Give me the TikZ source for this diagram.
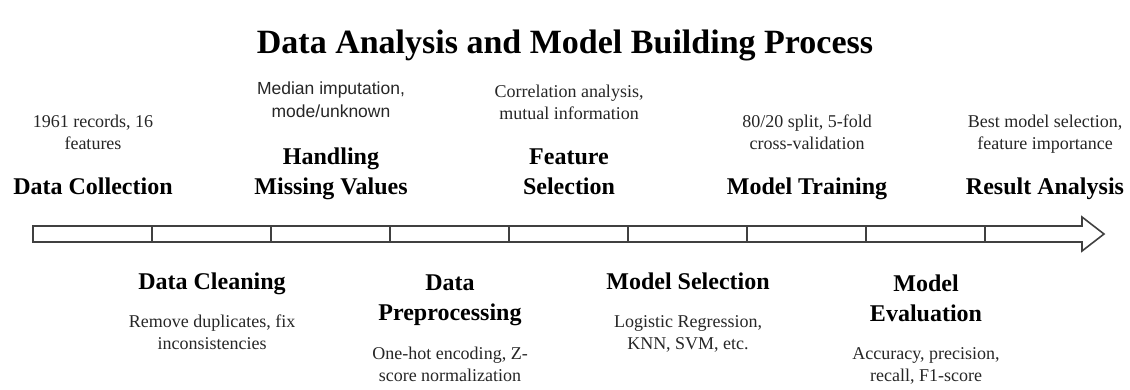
\documentclass[tikz,border=0pt]{standalone}
\usepackage{fontspec}
\setmainfont{Liberation Serif}
\setsansfont{Liberation Sans}
\usetikzlibrary{positioning}
\tikzset{
    stagename/.style={font=\fontsize{24}{30}\selectfont\bfseries, align=center, inner sep=0pt,
        execute at begin node=\strut, execute at end node=\strut},
    stagedesc/.style={font=\fontsize{18}{22}\selectfont, align=center, inner sep=0pt, text=black!85,
        execute at begin node=\strut, execute at end node=\strut},
    sansdesc/.style={stagedesc, font=\sffamily\fontsize{17.5}{23}\selectfont},
    arrowline/.style={draw=black!75, line width=1.6pt, line join=miter}
}
\begin{document}
\begin{tikzpicture}[x=1pt, y=1pt]
        \useasboundingbox (0,0) rectangle (1130,-389);
        % title
        \node[font=\fontsize{34}{40}\selectfont\bfseries, anchor=base] (title) at (565,-53) {Data Analysis and Model Building Process};
        % timeline arrow
        \draw[arrowline] (33,-226) -- (1082,-226) -- (1082,-217) -- (1104,-234) -- (1082,-251) -- (1082,-242) -- (33,-242) -- cycle;
        \foreach \x in {152,271,390,509,628,747,866,985}
            \draw[arrowline] (\x,-226) -- (\x,-242);
        \foreach \i in {0,...,8}
            \coordinate (s\i) at (93+119*\i,-234);
        % stages above the line
        \node[stagename, above=30pt of s0] (collect) {Data Collection};
        \node[stagedesc, above=17pt of collect] (collectdesc) {1961 records, 16\\features};
        \node[stagename, above=30pt of s2] (missing) {Handling\\Missing Values};
        \node[sansdesc, above=23pt of missing] (missingdesc) {Median imputation,\\mode/unknown};
        \node[stagename, above=30pt of s4] (select) {Feature\\Selection};
        \node[stagedesc, above=23pt of select] (selectdesc) {Correlation analysis,\\mutual information};
        \node[stagename, above=30pt of s6] (train) {Model Training};
        \node[stagedesc, above=17pt of train] (traindesc) {80/20 split, 5-fold\\cross-validation};
        \node[stagename, above=30pt of s8] (result) {Result Analysis};
        \node[stagedesc, above=17pt of result] (resultdesc) {Best model selection,\\feature importance};
        % stages below the line
        \node[stagename, below=34pt of s1] (clean) {Data Cleaning};
        \node[stagedesc, below=16.5pt of clean] (cleandesc) {Remove duplicates, fix\\inconsistencies};
        \node[stagename, below=41pt of s3] (prep) {Data\\Preprocessing};
        \node[stagedesc, below=16.5pt of prep] (prepdesc) {One-hot encoding, Z-\\score normalization};
        \node[stagename, below=34pt of s5] (model) {Model Selection};
        \node[stagedesc, below=16.5pt of model] (modeldesc) {Logistic Regression,\\KNN, SVM, etc.};
        \node[stagename, below=41pt of s7] (eval) {Model\\Evaluation};
        \node[stagedesc, below=16.5pt of eval] (evaldesc) {Accuracy, precision,\\recall, F1-score};
\end{tikzpicture}
\end{document}
